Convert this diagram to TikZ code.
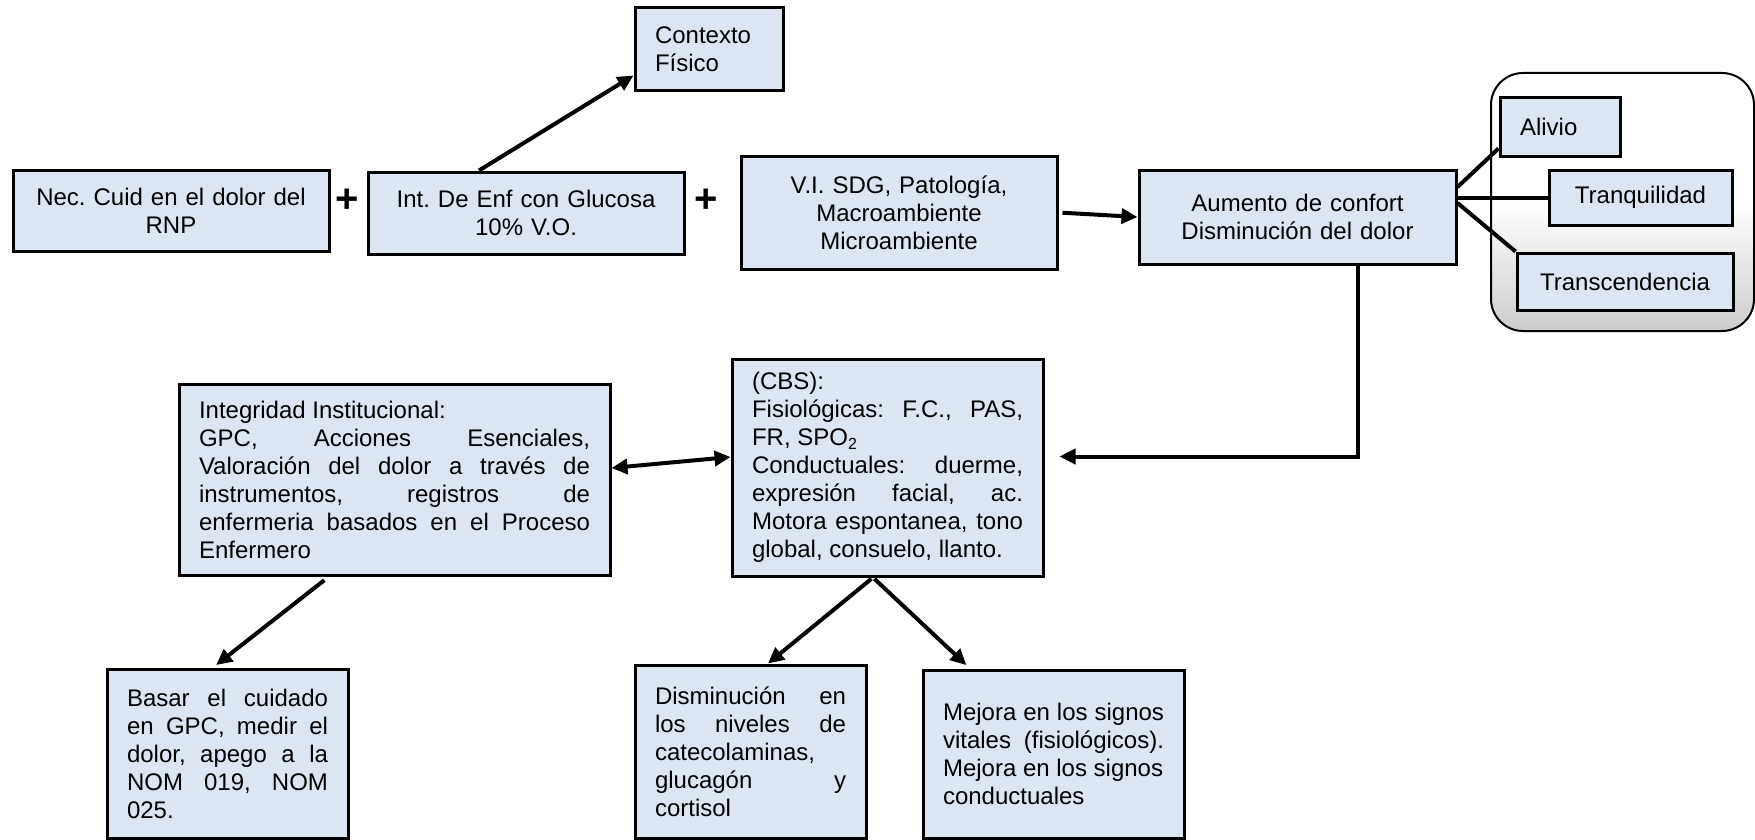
\documentclass[tikz,border=0pt]{standalone}
\usepackage{fontspec}
\setmainfont{Liberation Sans}
\usetikzlibrary{arrows.meta}
\definecolor{cajafondo}{RGB}{220,230,242}
\frenchspacing
\tikzset{
  caja/.style={draw, line width=1.5pt, fill=cajafondo, inner xsep=10pt, font=\fontsize{12}{14}\selectfont},
  flecha/.style={->, line width=2pt},
  enlace/.style={line width=2pt},
}
\begin{document}
\begin{tikzpicture}[x=0.5pt, y=-0.5pt, >={Triangle[length=8pt,width=7.5pt]}]
\useasboundingbox (0,0) rectangle (1755,840);

\draw[rounded corners=16pt, line width=1pt, top color=white, bottom color=black!20, middle color=white] (1491,73) rectangle (1754,331);

\node[caja, text width=138pt, minimum height=40.5pt, align=center] (nec) at (171,210.5) {Nec. Cuid en el dolor del\\RNP};
\node[caja, text width=138pt, minimum height=41pt, align=center] (int) at (526,213) {Int. De Enf con Glucosa\\10\% V.O.};
\node[caja, text width=138pt, minimum height=56.5pt, align=center] (vi) at (899,212.5) {V.I. SDG, Patología,\\Macroambiente\\Microambiente};
\node[caja, text width=54pt, minimum height=41.5pt, align=left] (ctx) at (709,49.5) {Contexto\\Físico};
\node[caja, text width=138.5pt, minimum height=47pt, align=center] (aum) at (1297.5,217) {Aumento de confort\\Disminución del dolor};

\node[caja, text width=40pt, minimum height=29pt, align=left] (alivio) at (1560,127) {Alivio};
\node[caja, text width=71.5pt, minimum height=27.5pt, align=center] (tranq) at (1640.5,197.5) {Tranquilidad};
\node[caja, text width=88pt, minimum height=28.5pt, align=center] (transc) at (1625,281.5) {Transcendencia};

\node[font=\fontsize{20}{24}\selectfont\bfseries] (mas1) at (347,201) {+};
\node[font=\fontsize{20}{24}\selectfont\bfseries] (mas2) at (706,201) {+};

\node[caja, text width=195.5pt, minimum height=95.5pt, align=justify] (integ) at (394.5,479.5) {Integridad Institucional:\\GPC, Acciones Esenciales,\linebreak Valoración del dolor a través de\linebreak instrumentos, registros de\linebreak enfermeria basados en el Proceso\linebreak Enfermero};
\node[caja, text width=135.5pt, minimum height=108.5pt, align=justify] (cbs) at (887.5,467.5) {(CBS):\\Fisiológicas: F.C., PAS,\linebreak FR, SPO\textsubscript{2}\\Conductuales: duerme,\linebreak expresión facial, ac.\linebreak Motora espontanea, tono\linebreak global, consuelo, llanto.};

\node[caja, text width=100.5pt, minimum height=84.5pt, align=justify] (basar) at (227.5,753.5) {Basar el cuidado\linebreak en GPC, medir el\linebreak dolor, apego a la\linebreak NOM 019, NOM\linebreak 025.};
\node[caja, text width=95.5pt, minimum height=86.5pt, align=justify] (dismin) at (750.5,751.5) {Disminución en\linebreak los niveles de\linebreak catecolaminas,\\glucagón y\linebreak cortisol};
\node[caja, text width=110.5pt, minimum height=84pt, align=justify] (mejora) at (1053.5,754) {Mejora en los signos\linebreak vitales (fisiológicos).\linebreak Mejora en los signos\\conductuales};

\draw[flecha] ([xshift=-23.5pt]int.north) -- ([yshift=-13pt]ctx.west);
\draw[flecha, shorten <=2pt] (vi.east) -- (aum.west);
\draw[flecha, shorten >=7.5pt] ([xshift=30pt]aum.south) |- ([yshift=5.5pt]cbs.east);
\draw[flecha, <->] ([yshift=5.75pt]integ.east) -- ([yshift=5.25pt]cbs.west);
\draw[flecha, shorten <=3pt, shorten >=2pt] ([xshift=-32.75pt]integ.south) -- ([xshift=-7.25pt]basar.north);
\draw[flecha, shorten <=1pt] ([xshift=-7.25pt]cbs.south) -- ([xshift=8.75pt]dismin.north);
\draw[flecha, shorten <=1pt, shorten >=2.5pt] ([xshift=-7.25pt]cbs.south) -- ([xshift=-41.75pt]mejora.north);

\draw[enlace] ([yshift=15pt]aum.east) -- ([yshift=4.5pt]alivio.south west);
\draw[enlace] (aum.east |- tranq.west) -- (tranq.west);
\draw[enlace] ([yshift=7pt]aum.east) -- (transc.north west);

\end{tikzpicture}
\end{document}
